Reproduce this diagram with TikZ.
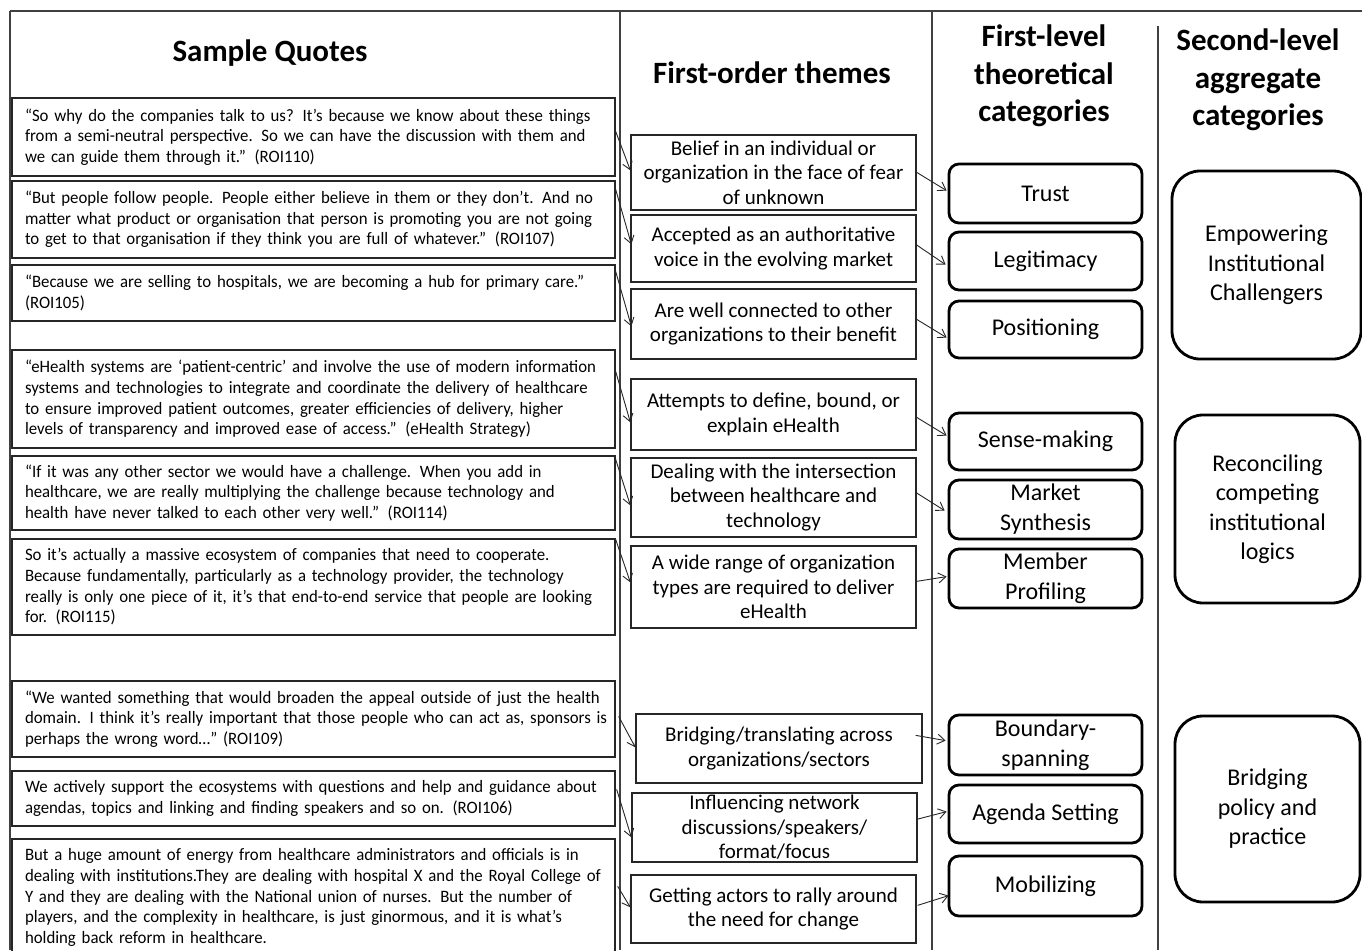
\documentclass[tikz,border=0pt]{standalone}
\usepackage{fontspec}
\setmainfont{Carlito}
\newfontfamily\quotefont[FakeStretch=0.965]{Carlito}
\usetikzlibrary{arrows.meta}
\newcommand\QL[1]{\mbox{#1}}
\tikzset{
  tline/.style={draw=black!75, line width=1.2pt},
  qbox/.style={draw=black!85, line width=1.3pt, inner xsep=13pt, inner ysep=0pt,
    text width=577pt, align=left, font=\quotefont\fontsize{17.4}{20.7}\selectfont},
  tbox/.style={draw=black!85, line width=1.3pt, inner sep=0pt, minimum width=285pt,
    align=center, font=\fontsize{21}{24.5}\selectfont},
  cbox/.style={draw=black, line width=2.8pt, rounded corners=10pt, inner sep=0pt,
    minimum width=193pt, align=center, font=\fontsize{24}{30}\selectfont},
  abox/.style={draw=black, line width=2.8pt, rounded corners=28pt, inner sep=0pt,
    align=center, font=\fontsize{24}{29.5}\selectfont},
  hdr/.style={font=\bfseries\fontsize{31}{37.5}\selectfont, align=center, inner sep=0pt},
  conn/.style={draw=black!85, line width=0.9pt, -{Straight Barb[length=7.5pt,width=10pt]}}
}
\begin{document}
\begin{tikzpicture}[x=1pt,y=-1pt]
\useasboundingbox (0,0) rectangle (1362,950);
\fill[white] (0,0) rectangle (1362,950);
% table rules
\draw[tline] (10,11) -- (1362,11);
\draw[tline] (10,11) -- (10,950);
\draw[tline] (620,11) -- (620,950);
\draw[tline] (932,11) -- (932,950);
\draw[tline] (1158,26) -- (1158,950);
% headers
\node[hdr, anchor=base] (h1) at (270,62) {Sample Quotes};
\node[hdr, anchor=base] (h2) at (772,83) {First-order themes};
\node[hdr] (h3) at (1044,76) {First-level\\theoretical\\categories};
\node[hdr] (h4) at (1258,80) {Second-level\\aggregate\\categories};
% quotes
\node[qbox, minimum height=78pt] (q1) at (313.5,137) {\QL{“So why do the companies talk to us?  It’s because we know about these things}\\\QL{from a semi-neutral perspective.  So we can have the discussion with them and}\\\QL{we can guide them through it.” (ROI110)}};
\node[qbox, minimum height=77pt] (q2) at (313.5,219.5) {\QL{“But people follow people.  People either believe in them or they don’t.  And no}\\\QL{matter what product or organisation that person is promoting you are not going}\\\QL{to get to that organisation if they think you are full of whatever.”  (ROI107)}};
\node[qbox, minimum height=56pt] (q3) at (313.5,293) {\QL{“Because we are selling to hospitals, we are becoming a hub for primary care.”}\\\QL{(ROI105)}};
\node[qbox, minimum height=98pt] (q4) at (313.5,399) {\QL{“eHealth systems are ‘patient-centric’ and involve the use of modern information}\\\QL{systems and technologies to integrate and coordinate the delivery of healthcare}\\\QL{to ensure improved patient outcomes, greater efficiencies of delivery, higher}\\\QL{levels of transparency and improved ease of access.” (eHealth Strategy)}};
\node[qbox, minimum height=74pt] (q5) at (313.5,493) {\QL{“If it was any other sector we would have a challenge.  When you add in}\\\QL{healthcare, we are really multiplying the challenge because technology and}\\\QL{health have never talked to each other very well.” (ROI114)}};
\node[qbox, minimum height=96pt] (q6) at (313.5,587) {\QL{So it’s actually a massive ecosystem of companies that need to cooperate.}\\\QL{Because fundamentally, particularly as a technology provider, the technology}\\\QL{really is only one piece of it, it’s that end-to-end service that people are looking}\\\QL{for. (ROI115)}};
\node[qbox, minimum height=76pt] (q7) at (313.5,719) {\QL{“We wanted something that would broaden the appeal outside of just the health}\\\QL{domain.  I think it’s really important that those people who can act as, sponsors is}\\\QL{perhaps the wrong word…” (ROI109)}};
\node[qbox, minimum height=55pt] (q8) at (313.5,798.5) {\QL{We actively support the ecosystems with questions and help and guidance about}\\\QL{agendas, topics and linking and finding speakers and so on.  (ROI106)}};
\node[qbox, minimum height=117pt] (q9) at (313.5,897.5) {\QL{But a huge amount of energy from healthcare administrators and officials is in}\\\QL{dealing with institutions.They are dealing with hospital X and the Royal College of}\\\QL{Y and they are dealing with the National union of nurses.  But the number of}\\\QL{players, and the complexity in healthcare, is just ginormous, and it is what’s}\\\QL{holding back reform in healthcare.}};
% themes
\node[tbox, minimum height=75pt] (t1) at (773.5,172.5) {Belief in an individual or\\organization in the face of fear\\of unknown};
\node[tbox, minimum height=67pt] (t2) at (773.5,248.5) {Accepted as an authoritative\\voice in the evolving market};
\node[tbox, minimum height=70pt] (t3) at (773.5,324) {Are well connected to other\\organizations to their benefit};
\node[tbox, minimum height=71pt] (t4) at (773.5,414.5) {Attempts to define, bound, or\\explain eHealth};
\node[tbox, minimum height=79pt] (t5) at (773.5,497.5) {Dealing with the intersection\\between healthcare and\\technology};
\node[tbox, minimum height=82pt] (t6) at (773.5,587) {A wide range of organization\\types are required to deliver\\eHealth};
\node[tbox, minimum height=69pt, minimum width=286pt] (t7) at (779,748.5) {Bridging/translating across\\organizations/sectors};
\node[tbox, minimum height=69pt] (t8) at (774.5,827.5) {Influencing network\\discussions/speakers/\\format/focus};
\node[tbox, minimum height=68pt] (t9) at (773.5,909) {Getting actors to rally around\\the need for change};
% first-level categories
\node[cbox, minimum height=59pt] (c1) at (1045.5,193.5) {Trust};
\node[cbox, minimum height=58pt] (c2) at (1045.5,261) {Legitimacy};
\node[cbox, minimum height=57pt] (c3) at (1045.5,329.5) {Positioning};
\node[cbox, minimum height=57pt] (c4) at (1045.5,441.5) {Sense-making};
\node[cbox, minimum height=59pt] (c5) at (1045.5,509.5) {Market\\Synthesis};
\node[cbox, minimum height=59pt] (c6) at (1045.5,578.5) {Member\\Profiling};
\node[cbox, minimum height=60pt] (c7) at (1045.5,745) {Boundary-\\spanning};
\node[cbox, minimum height=58pt] (c8) at (1045.5,814) {Agenda Setting};
\node[cbox, minimum height=60pt] (c9) at (1045.5,886) {Mobilizing};
% aggregate categories
\node[abox, minimum width=189pt, minimum height=188pt] (a1) at (1266.5,265) {Empowering\\Institutional\\Challengers};
\node[abox, minimum width=185pt, minimum height=188pt] (a2) at (1267.5,509) {Reconciling\\competing\\institutional\\logics};
\node[abox, minimum width=185pt, minimum height=186pt] (a3) at (1267.5,809) {Bridging\\policy and\\practice};
% quote -> theme
\draw[conn] ([yshift=-34pt]q1.north east) -- ([yshift=-36pt]t1.north west);
\draw[conn] ([yshift=-9pt]q2.north east) -- ([yshift=-30pt,xshift=1pt]t2.north west);
\draw[conn] ([yshift=-7pt]q3.north east) -- ([yshift=-38pt,xshift=1pt]t3.north west);
\draw[conn] ([yshift=-22pt]q4.north east) -- ([yshift=-44pt]t4.north west);
\draw[conn] ([yshift=-4pt]q5.north east) -- ([yshift=-48pt]t5.north west);
\draw[conn] ([yshift=-1pt]q6.north east) -- ([yshift=-37pt]t6.north west);
\draw[conn] ([yshift=-36pt,xshift=3pt]q7.north east) -- ([yshift=-34pt]t7.north west);
\draw[conn] ([yshift=-19pt,xshift=1pt]q8.north east) -- ([yshift=-45pt]t8.north west);
\draw[conn] ([yshift=-48pt,xshift=2pt]q9.north east) -- ([yshift=-33pt]t9.north west);
% theme -> category
\draw[conn] ([yshift=-38pt]t1.north east) -- ([yshift=-28pt,xshift=-1pt]c1.north west);
\draw[conn] ([yshift=-30pt,xshift=-1pt]t2.north east) -- ([yshift=-34pt,xshift=-2pt]c2.north west);
\draw[conn] ([yshift=-31pt]t3.north east) -- ([yshift=-38pt,xshift=-1pt]c3.north west);
\draw[conn] ([yshift=-39pt]t4.north east) -- ([yshift=-24pt,xshift=-1pt]c4.north west);
\draw[conn] ([yshift=-35pt,xshift=-1pt]t5.north east) -- ([yshift=-32pt,xshift=-3pt]c5.north west);
\draw[conn] ([yshift=-36pt]t6.north east) -- ([yshift=-29pt,xshift=-1pt]c6.north west);
\draw[conn] ([yshift=-22pt,xshift=-7pt]t7.north east) -- ([yshift=-27pt,xshift=-2pt]c7.north west);
\draw[conn] ([yshift=-27pt,xshift=-1pt]t8.north east) -- ([yshift=-28pt,xshift=-1pt]c8.north west);
\draw[conn] ([yshift=-31pt,xshift=1pt]t9.north east) -- ([yshift=-41pt,xshift=1pt]c9.north west);
\end{tikzpicture}
\end{document}
